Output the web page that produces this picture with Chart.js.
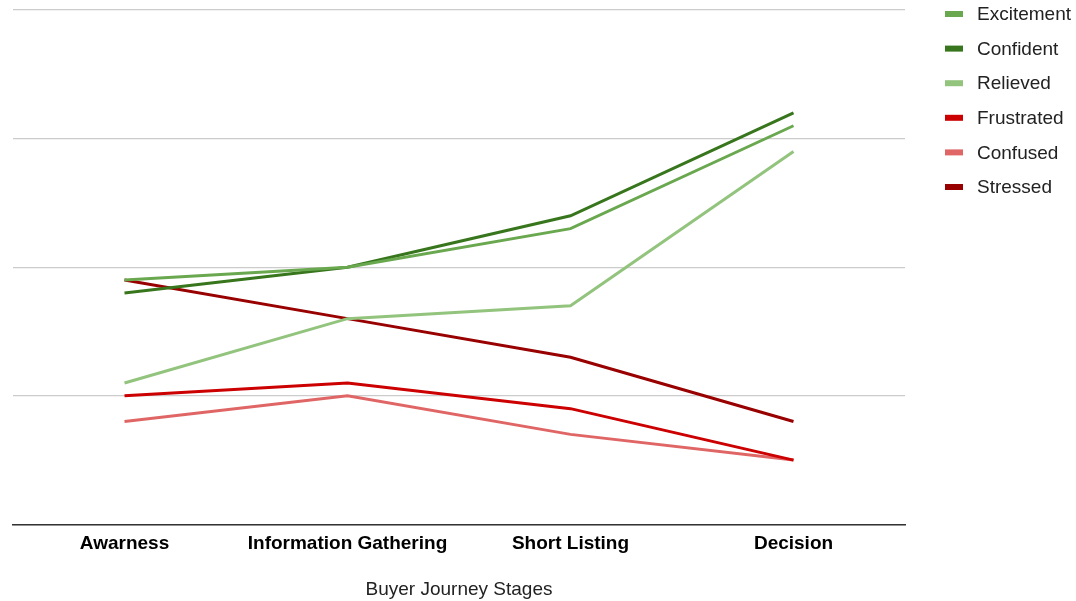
<!DOCTYPE html>
<html>
<head>
<meta charset="utf-8">
<script src="https://cdn.jsdelivr.net/npm/chart.js@4"></script>
<style>
  html, body { margin: 0; padding: 0; background: #fff; }
  #wrap { width: 1076px; height: 601px; position: relative; }
</style>
</head>
<body>
<div id="wrap"><canvas id="journeyChart"></canvas></div>
<script>
// Data
const stages = ['Awarness', 'Information Gathering', 'Short Listing', 'Decision'];
const excitement = [1.9, 2.0, 2.3, 3.1];
const confident = [1.8, 2.0, 2.4, 3.2];
const relieved = [1.1, 1.6, 1.7, 2.9];
const frustrated = [1.0, 1.1, 0.9, 0.5];
const confused = [0.8, 1.0, 0.7, 0.5];
const stressed = [1.9, 1.6, 1.3, 0.8];

const font = '"Liberation Sans", Arial, sans-serif';

function line(label, data, color) {
    return {
        label: label,
        data: data,
        borderColor: color,
        backgroundColor: color,
        borderWidth: 3,
        pointRadius: 0,
        tension: 0,
        fill: false
    };
}

// Legend drawn on the right side
const sideLegend = {
    id: 'sideLegend',
    afterDraw(chart) {
        const ctx = chart.ctx;
        ctx.save();
        ctx.font = '19px ' + font;
        ctx.textBaseline = 'middle';
        chart.data.datasets.forEach((ds, i) => {
            const y = 14 + i * 34.6;
            ctx.fillStyle = ds.borderColor;
            ctx.fillRect(945, y - 3, 18, 6);
            ctx.fillStyle = '#222';
            ctx.fillText(ds.label, 977, y + 1);
        });
        ctx.restore();
    }
};

const ctx = document.getElementById('journeyChart').getContext('2d');
new Chart(ctx, {
    type: 'line',
    data: {
        labels: stages,
        datasets: [
            line('Excitement', excitement, '#6aa84f'),
            line('Confident', confident, '#38761d'),
            line('Relieved', relieved, '#93c47d'),
            line('Frustrated', frustrated, '#cc0000'),
            line('Confused', confused, '#e06666'),
            line('Stressed', stressed, '#990000')
        ]
    },
    options: {
        responsive: true,
        maintainAspectRatio: false,
        animation: false,
        layout: { padding: { top: 10, right: 171, left: 13, bottom: 0 } },
        plugins: {
            legend: { display: false },
            tooltip: { enabled: false }
        },
        scales: {
            x: {
                offset: true,
                grid: { display: false, drawTicks: false },
                border: { display: true, color: '#333', width: 1.5 },
                ticks: {
                    color: '#000',
                    padding: 8,
                    font: { family: font, size: 19, weight: 'bold' }
                },
                title: {
                    display: true,
                    text: 'Buyer Journey Stages',
                    color: '#222',
                    padding: { top: 15, bottom: 0 },
                    font: { family: font, size: 19 }
                }
            },
            y: {
                min: 0,
                max: 4,
                ticks: { display: false, stepSize: 1 },
                grid: { color: '#cccccc', lineWidth: 1.2, drawTicks: false },
                border: { display: false }
            }
        }
    },
    plugins: [sideLegend]
});
</script>
</body>
</html>
